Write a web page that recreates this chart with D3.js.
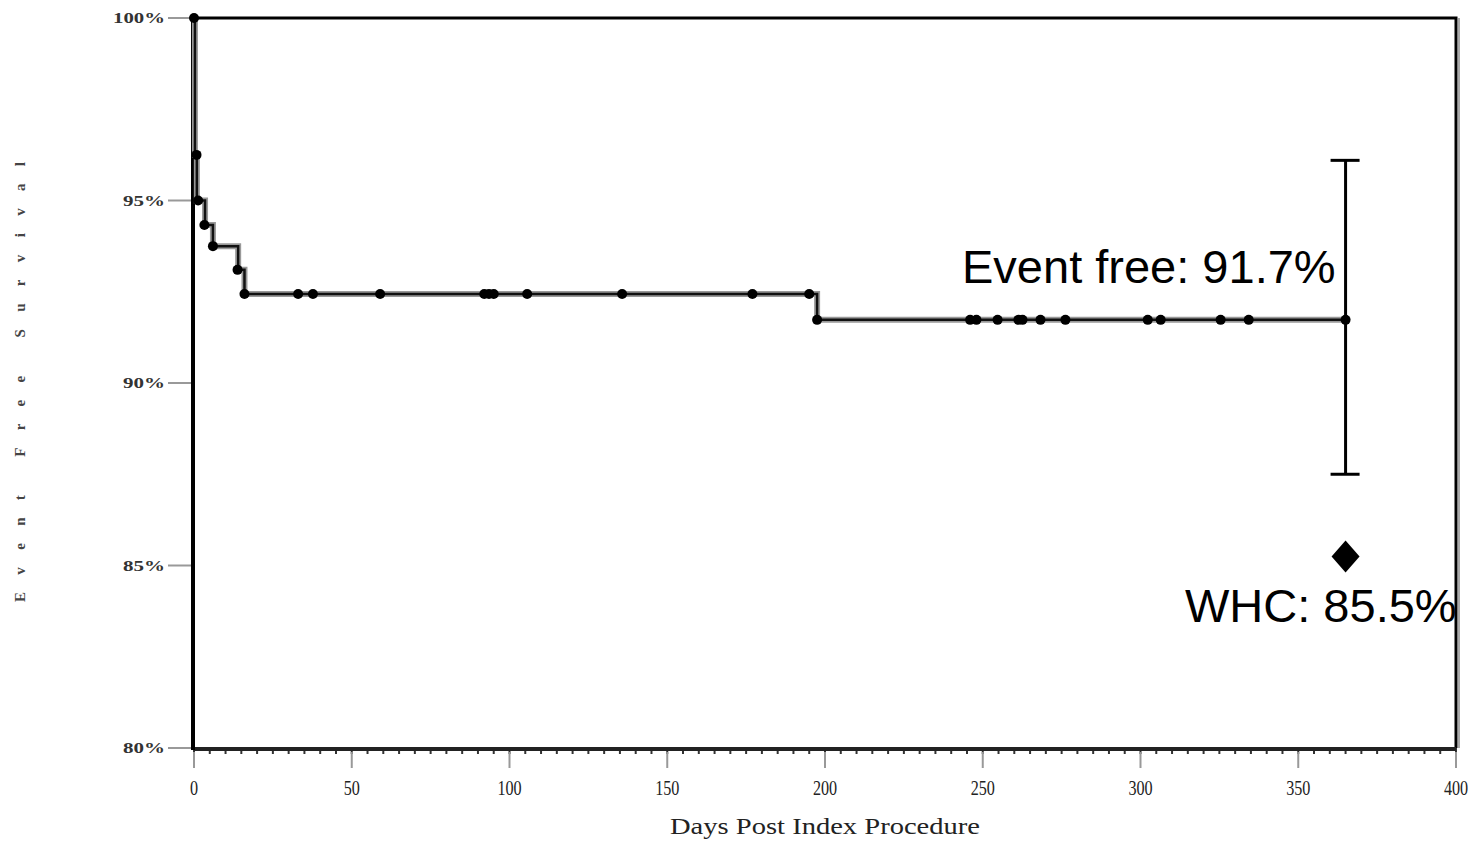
<!DOCTYPE html>
<html>
<head>
<meta charset="utf-8">
<script src="https://cdn.jsdelivr.net/npm/d3@7"></script>
<style>
  body { margin: 0; background: #fff; }
  svg { display: block; }
</style>
</head>
<body>
<div id="chart"></div>
<script>
// data
// Kaplan-Meier steps: [day, survival %]
const stepDays = [0, 0.3, 0.9, 3.5, 6, 14, 16, 197.5, 365];
const stepSurv = [100, 96.25, 95.0, 94.33, 93.75, 93.1, 92.44, 91.73, 91.73];

// event / censor markers
const dotDays = [0, 0.8, 1.3, 3.3, 6, 13.8, 16,
  33, 37.7, 59, 92, 93.5, 95, 105.6, 135.7, 177, 195,
  197.5, 246, 248, 254.7, 261.3, 262.6, 268.3, 276.2, 302.3, 306.4, 325.4, 334.3, 365];
const dotSurv = [100, 96.25, 95.0, 94.33, 93.75, 93.1, 92.44,
  92.44, 92.44, 92.44, 92.44, 92.44, 92.44, 92.44, 92.44, 92.44, 92.44,
  91.73, 91.73, 91.73, 91.73, 91.73, 91.73, 91.73, 91.73, 91.73, 91.73, 91.73, 91.73, 91.73];

// confidence interval at one year
const ciDay = 365;
const ciLow = 87.5;
const ciHigh = 96.1;
const eventFree = 91.73;

// WHC comparison point
const whcDay = 365;
const whcValue = 85.25;

const xTicks = [0, 50, 100, 150, 200, 250, 300, 350, 400];
const yTicks = [80, 85, 90, 95, 100];
const yTickLabels = ["80%", "85%", "90%", "95%", "100%"];

function drawChart() {
  const W = 1478, H = 841;
  const svg = d3.select("#chart").append("svg")
    .attr("width", W).attr("height", H);

  const x = d3.scaleLinear().domain([0, 400]).range([194, 1456]);
  const y = d3.scaleLinear().domain([80, 100]).range([748, 18]);

  const serif = "'Liberation Serif', 'DejaVu Serif', serif";
  const sans = "'Liberation Sans', Arial, sans-serif";

  // frame (top, right)
  svg.append("line")
    .attr("x1", x(400) + 3).attr("x2", x(400) + 3)
    .attr("y1", y(100)).attr("y2", y(80))
    .attr("stroke", "#aaa").attr("stroke-width", 2);
  svg.append("path")
    .attr("d", `M${x(0)},${y(100)}H${x(400)}V${y(80)}`)
    .attr("fill", "none").attr("stroke", "#000").attr("stroke-width", 3);

  // x axis
  const minor = d3.range(0, 401, 5);
  svg.append("g").selectAll("line").data(minor).join("line")
    .attr("x1", d => x(d)).attr("x2", d => x(d))
    .attr("y1", y(80)).attr("y2", y(80) + 6)
    .attr("stroke", "#333").attr("stroke-width", 2);
  svg.append("g").selectAll("line").data(xTicks).join("line")
    .attr("x1", d => x(d)).attr("x2", d => x(d))
    .attr("y1", y(80) + 4).attr("y2", y(80) + 20)
    .attr("stroke", "#999").attr("stroke-width", 2);
  svg.append("line")
    .attr("x1", x(0)).attr("x2", x(400))
    .attr("y1", y(80) + 1).attr("y2", y(80) + 1)
    .attr("stroke", "#222").attr("stroke-width", 4);
  svg.append("g").selectAll("text").data(xTicks).join("text")
    .attr("transform", d => `translate(${x(d)},795) scale(0.85,1.15)`)
    .attr("text-anchor", "middle")
    .style("font-family", serif).style("font-size", "19px")
    .style("fill", "#222")
    .text(d => d);
  svg.append("text")
    .attr("x", 825).attr("y", 834)
    .attr("text-anchor", "middle")
    .attr("textLength", 310).attr("lengthAdjust", "spacingAndGlyphs")
    .style("font-family", serif).style("font-size", "23px")
    .style("fill", "#222")
    .text("Days Post Index Procedure");

  // y axis
  svg.append("g").selectAll("line").data(yTicks).join("line")
    .attr("x1", 168).attr("x2", x(0))
    .attr("y1", d => y(d)).attr("y2", d => y(d))
    .attr("stroke", "#999").attr("stroke-width", 2);
  svg.append("line")
    .attr("x1", x(0) - 1).attr("x2", x(0) - 1)
    .attr("y1", y(100) - 1).attr("y2", y(80) + 2)
    .attr("stroke", "#000").attr("stroke-width", 4);
  svg.append("g").selectAll("text").data(yTicks).join("text")
    .attr("x", 165).attr("y", d => y(d) + 5)
    .attr("text-anchor", "end")
    .attr("textLength", (d, i) => yTickLabels[i].length === 4 ? 52 : 42)
    .attr("lengthAdjust", "spacingAndGlyphs")
    .style("font-family", serif).style("font-size", "15px")
    .style("font-weight", "bold").style("fill", "#333")
    .text((d, i) => yTickLabels[i]);
  svg.append("text")
    .attr("transform", "translate(25,382) rotate(-90)")
    .attr("text-anchor", "middle")
    .attr("textLength", 440).attr("lengthAdjust", "spacing")
    .style("font-family", serif).style("font-size", "15px")
    .style("font-weight", "bold").style("fill", "#444")
    .text("Event Free Survival");

  // survival curve
  const pts = stepDays.map((d, i) => [d, stepSurv[i]]);
  const line = d3.line()
    .x(d => x(d[0])).y(d => y(d[1]))
    .curve(d3.curveStepAfter);
  svg.append("path").datum(pts)
    .attr("d", line).attr("fill", "none")
    .attr("stroke", "#999").attr("stroke-width", 6);
  svg.append("path").datum(pts)
    .attr("d", line).attr("fill", "none")
    .attr("stroke", "#111").attr("stroke-width", 2.5);

  svg.append("g").selectAll("circle").data(dotDays).join("circle")
    .attr("cx", d => x(d)).attr("cy", (d, i) => y(dotSurv[i]))
    .attr("r", 5).attr("fill", "#000");

  // confidence interval
  const ci = svg.append("g").attr("stroke", "#000").attr("stroke-width", 3);
  ci.append("line")
    .attr("x1", x(ciDay)).attr("x2", x(ciDay))
    .attr("y1", y(ciHigh)).attr("y2", y(ciLow));
  [ciHigh, ciLow].forEach(v => {
    ci.append("line")
      .attr("x1", x(ciDay) - 15).attr("x2", x(ciDay) + 14)
      .attr("y1", y(v)).attr("y2", y(v));
  });

  svg.append("text")
    .attr("x", 962).attr("y", 283)
    .style("font-family", sans).style("font-size", "47px")
    .style("fill", "#000")
    .text(`Event free: ${d3.format(".1f")(eventFree)}%`);

  // WHC diamond
  svg.append("path")
    .attr("transform", `translate(${x(whcDay)},${y(whcValue)})`)
    .attr("d", "M0,-16L14,0L0,16L-14,0Z")
    .attr("fill", "#000");
  svg.append("text")
    .attr("x", 1185).attr("y", 622)
    .style("font-family", sans).style("font-size", "47px")
    .style("fill", "#000")
    .text("WHC: 85.5%");
}

drawChart();
</script>
</body>
</html>
